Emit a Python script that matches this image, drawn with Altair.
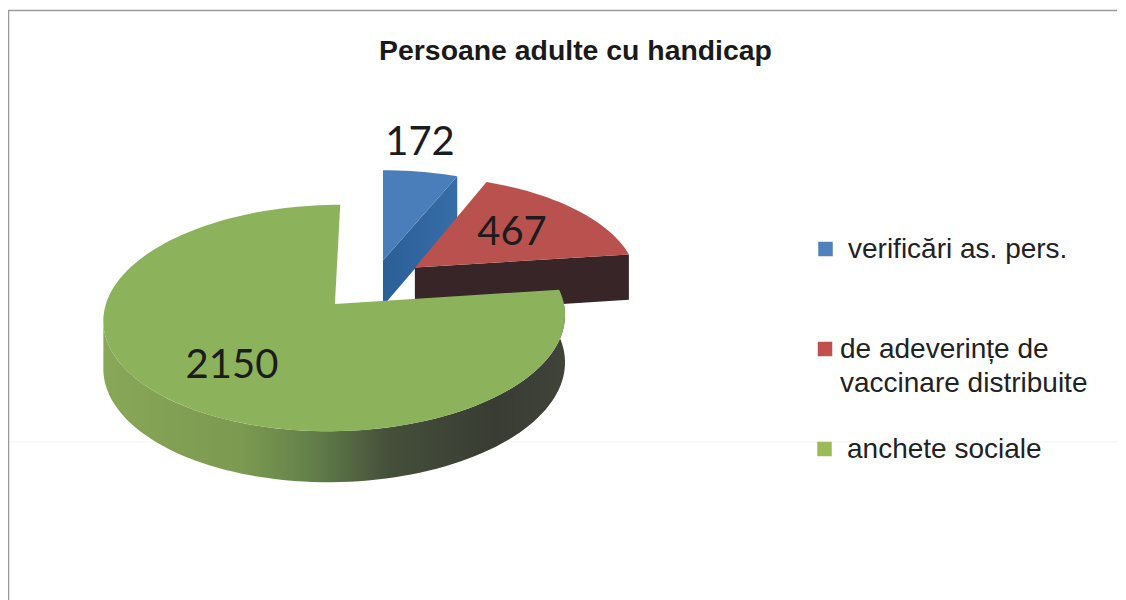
import math
import altair as alt
import pandas as pd

# --- data ---
CATEGORIES = ["verificări as. pers.", "de adeverințe de vaccinare distribuite", "anchete sociale"]
VALUES = [172, 467, 2150]
VALUE_LABELS = ["172", "467", "2150"]
LEGEND_LINES = [["verificări as. pers."], ["de adeverințe de", "vaccinare distribuite"], ["anchete sociale"]]
TITLE = "Persoane adulte cu handicap"

# --- styles and layout (page pixels) ---
TOP_COLORS = ["#4A7EBB", "#B9524E", "#8CB35C"]
LEGEND_COLORS = ["#4F81BD", "#C0504D", "#9BBB59"]
X0, Y0, A, B, K, H = 383.0, 304.0, 229.0, 111.5, 0.124, 47.0
EXPLODE = [(0.0, -0.41), (0.145, -0.34), (-0.21, 0.0)]
W, PH = 1110, 592
STEP = 2.0


def project(u, v, drop=0.0):
    s = 1.0 / (1.0 - K * v)
    return X0 + A * u * s, Y0 + B * v * s + drop * H * s ** 0.6


def on_rim(start, deg, dx, dy):
    t = math.radians(start + deg)
    return dx + math.sin(t), dy - math.cos(t)


def sweep(a0, a1):
    n = max(2, int((a1 - a0) / STEP))
    return [a0 + (a1 - a0) * i / n for i in range(n + 1)]


total = sum(VALUES)
start = 0.0
angles = []
for val in VALUES:
    angles.append((start, start + val / total * 360.0))
    start += val / total * 360.0


def polygon(points):
    return pd.DataFrame([{"x": p[0], "y": p[1], "o": i} for i, p in enumerate(points)])


xs = alt.Scale(domain=[8, 8 + W], range=[0, W], nice=False, zero=False)
ys = alt.Scale(domain=[8, 8 + PH], range=[0, PH], nice=False, zero=False)


def shape(points, fill):
    return alt.Chart(polygon(points)).mark_line(fill=fill, strokeOpacity=0, clip=True).encode(
        x=alt.X("x:Q", scale=xs, axis=None),
        y=alt.Y("y:Q", scale=ys, axis=None),
        order="o:Q",
    )


def top_face(i):
    dx, dy = EXPLODE[i]
    a0, a1 = angles[i]
    pts = [project(dx, dy)]
    for a in sweep(a0, a1):
        u, v = on_rim(a, 0, dx, dy)
        pts.append(project(u, v))
    return pts


def inner_wall(i, ang):
    dx, dy = EXPLODE[i]
    u, v = on_rim(ang, 0, dx, dy)
    return [project(dx, dy), project(u, v), project(u, v, 1), project(dx, dy, 1)]


def outer_wall(i, a0, a1):
    dx, dy = EXPLODE[i]
    rim = [on_rim(a, 0, dx, dy) for a in sweep(a0, a1)]
    return [project(u, v) for u, v in rim] + [project(u, v, 1) for u, v in reversed(rim)]


def hgrad(stops):
    return alt.LinearGradient(
        gradient="linear",
        x1=0, x2=1, y1=0, y2=0,
        stops=[alt.GradientStop(offset=o, color=c) for o, c in stops],
    )


blue_wall = hgrad([(0, "#2A5F97"), (1, "#376DA8")])
green_wall = hgrad([(0, "#88A757"), (0.3, "#7C9A50"), (0.45, "#63804A"), (0.62, "#454F3A"), (0.85, "#383C33"), (1, "#3F433A")])


def hairline(xv, yv, color, width):
    df = pd.DataFrame({"x": xv, "y": yv, "o": list(range(len(xv)))})
    return alt.Chart(df).mark_line(color=color, strokeWidth=width, clip=True).encode(
        x=alt.X("x:Q", scale=xs, axis=None),
        y=alt.Y("y:Q", scale=ys, axis=None),
        order="o:Q",
    )


layers = [
    hairline([8.5, 1118], [442, 442], "#f3f3f3", 1),
    shape(inner_wall(0, angles[0][1]), blue_wall),
    shape(top_face(0), TOP_COLORS[0]),
    shape(inner_wall(1, angles[1][1]), "#382527"),
    shape(top_face(1), TOP_COLORS[1]),
    shape(outer_wall(2, angles[2][0], 260), green_wall),
    shape(top_face(2), TOP_COLORS[2]),
]


def text(rows, **kw):
    return alt.Chart(pd.DataFrame(rows)).mark_text(**kw).encode(
        x=alt.X("x:Q", scale=xs, axis=None),
        y=alt.Y("y:Q", scale=ys, axis=None),
        text="t:N",
    )


# value labels
label_pos = [(420, 155), (512, 245), (232, 378)]
layers.append(text(
    [{"x": p[0], "y": p[1], "t": t} for p, t in zip(label_pos, VALUE_LABELS)],
    font="Lato", fontSize=40, color="#1c1c1c", align="center", baseline="alphabetic",
))

# title
layers.append(text(
    [{"x": 575.5, "y": 60, "t": TITLE}],
    font="Liberation Sans", fontSize=28.4, fontWeight="bold", color="#1a1a1a", align="center", baseline="alphabetic",
))

# legend
square_pos = [(825.5, 249), (825, 349), (824.5, 449)]
line_pos = [[(848, 258)], [(840, 358), (840, 392)], [(847, 458)]]
legend_df = pd.DataFrame({
    "x": [p[0] for p in square_pos],
    "y": [p[1] for p in square_pos],
    "c": CATEGORIES,
})
layers.append(
    alt.Chart(legend_df).mark_square(size=210, opacity=1, filled=True).encode(
        x=alt.X("x:Q", scale=xs, axis=None),
        y=alt.Y("y:Q", scale=ys, axis=None),
        color=alt.Color("c:N", scale=alt.Scale(domain=CATEGORIES, range=LEGEND_COLORS), legend=None),
    )
)
rows = []
for lines, pos in zip(LEGEND_LINES, line_pos):
    for t, p in zip(lines, pos):
        rows.append({"x": p[0], "y": p[1], "t": t})
layers.append(text(rows, font="Liberation Sans", fontSize=28, color="#222222", align="left", baseline="alphabetic"))

# frame of the scanned chart
layers.append(hairline([8.5, 8.5, 1117], [600, 10.5, 10.5], "#9a9a9a", 1.5))

chart = (
    alt.layer(*layers)
    .properties(width=W, height=PH, padding=0, background="#ffffff")
    .configure_view(stroke=None)
)
chart.save("out.html", embed_options={"renderer": "svg", "actions": False})
